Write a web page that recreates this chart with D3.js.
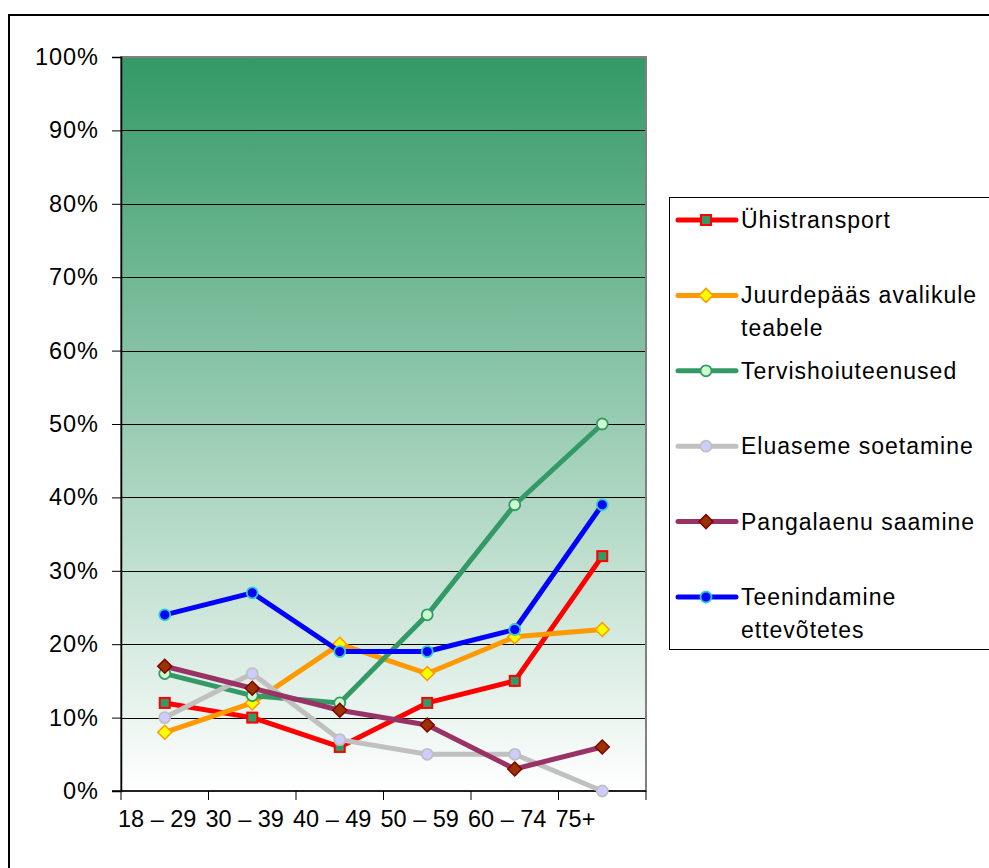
<!DOCTYPE html>
<html>
<head>
<meta charset="utf-8">
<script src="https://cdn.jsdelivr.net/npm/d3@7"></script>
<style>
  html, body { margin: 0; padding: 0; background: #fff; }
  svg { display: block; }
  text { font-family: "Liberation Sans", Arial, sans-serif; fill: #000; }
</style>
</head>
<body>
<svg id="chart" width="989" height="868"></svg>
<script>
// ---------- DATA ----------
const categories = ["18 – 29", "30 – 39", "40 – 49", "50 – 59", "60 – 74", "75+"];
const yTicks = [0, 0.1, 0.2, 0.3, 0.4, 0.5, 0.6, 0.7, 0.8, 0.9, 1.0];

const seriesNames = [
  "Ühistransport",
  "Juurdepääs avalikule teabele",
  "Tervishoiuteenused",
  "Eluaseme soetamine",
  "Pangalaenu saamine",
  "Teenindamine ettevõtetes"
];
const legendLines = [
  ["Ühistransport"],
  ["Juurdepääs avalikule", "teabele"],
  ["Tervishoiuteenused"],
  ["Eluaseme soetamine"],
  ["Pangalaenu saamine"],
  ["Teenindamine", "ettevõtetes"]
];

const valuesUhistransport = [0.12, 0.10, 0.06, 0.12, 0.15, 0.32];
const valuesJuurdepaas   = [0.08, 0.12, 0.20, 0.16, 0.21, 0.22];
const valuesTervishoiu   = [0.16, 0.13, 0.12, 0.24, 0.39, 0.50];
const valuesEluaseme     = [0.10, 0.16, 0.07, 0.05, 0.05, 0.00];
const valuesPangalaenu   = [0.17, 0.14, 0.11, 0.09, 0.03, 0.06];
const valuesTeenindamine = [0.24, 0.27, 0.19, 0.19, 0.22, 0.39];

const seriesValues = [valuesUhistransport, valuesJuurdepaas, valuesTervishoiu,
                      valuesEluaseme, valuesPangalaenu, valuesTeenindamine];

// ---------- STYLES ----------
const styles = [
  { line: "#ff0000", fill: "#339966", stroke: "#ff0000", shape: "square" },
  { line: "#ff9900", fill: "#ffff00", stroke: "#ff9900", shape: "diamond" },
  { line: "#339966", fill: "#ccffcc", stroke: "#339966", shape: "circle" },
  { line: "#c0c0c0", fill: "#ccccff", stroke: "#c0c0c0", shape: "circle" },
  { line: "#993366", fill: "#993300", stroke: "#800000", shape: "diamond" },
  { line: "#0000ff", fill: "#0000ff", stroke: "#33cccc", shape: "circle" }
];

const svg = d3.select("#chart");
const plot = { left: 121, right: 646, top: 57, bottom: 791 };

// outer chart border
svg.append("rect")
  .attr("x", 9).attr("y", 15).attr("width", 1000).attr("height", 900)
  .attr("fill", "#fff").attr("stroke", "#000").attr("stroke-width", 2);

const x = d3.scaleBand().domain(categories).range([plot.left, plot.right]).padding(0);
const y = d3.scaleLinear().domain([0, 1]).range([plot.bottom, plot.top]);

// gradient background
const defs = svg.append("defs");
const grad = defs.append("linearGradient").attr("id", "bg")
  .attr("x1", 0).attr("y1", 0).attr("x2", 0).attr("y2", 1);
grad.append("stop").attr("offset", "0%").attr("stop-color", "#339966");
grad.append("stop").attr("offset", "100%").attr("stop-color", "#ffffff");

svg.append("rect")
  .attr("x", plot.left).attr("y", plot.top)
  .attr("width", plot.right - plot.left).attr("height", plot.bottom - plot.top)
  .attr("fill", "url(#bg)");

// gridlines
svg.append("g").selectAll("line").data(yTicks.filter(t => t > 0 && t < 1)).join("line")
  .attr("x1", plot.left).attr("x2", plot.right)
  .attr("y1", d => Math.round(y(d)) + 0.5).attr("y2", d => Math.round(y(d)) + 0.5)
  .attr("stroke", "#000").attr("stroke-width", 1);

// plot border (gray)
svg.append("rect")
  .attr("x", plot.left).attr("y", plot.top)
  .attr("width", plot.right - plot.left).attr("height", plot.bottom - plot.top)
  .attr("fill", "none").attr("stroke", "#808080").attr("stroke-width", 2);

// y axis
const yAxis = d3.axisLeft(y).tickValues(yTicks).tickFormat(d3.format(".0%")).tickSize(9).tickPadding(13);
const gy = svg.append("g").attr("transform", `translate(${plot.left},0)`).call(yAxis);
gy.select(".domain").attr("stroke", "#000").attr("stroke-width", 1.5);
gy.selectAll(".tick line").attr("stroke", "#000");
gy.selectAll(".tick text")
  .style("font-family", '"Liberation Sans", Arial, sans-serif')
  .style("font-size", "23.5px").style("letter-spacing", "1px").attr("fill", "#000");

// x axis with ticks at category boundaries
const gx = svg.append("g").attr("transform", `translate(0,${plot.bottom})`);
gx.append("line").attr("x1", plot.left - 9).attr("x2", plot.right)
  .attr("y1", 0).attr("y2", 0).attr("stroke", "#000").attr("stroke-width", 1.5);
const boundaries = categories.map(c => x(c)).concat([x(categories[categories.length - 1]) + x.bandwidth()]);
gx.selectAll("line.tk").data(boundaries).join("line").attr("class", "tk")
  .attr("x1", d => d).attr("x2", d => d).attr("y1", 0).attr("y2", 9)
  .attr("stroke", "#000").attr("stroke-width", 1);
gx.selectAll("text").data(categories).join("text")
  .attr("x", d => x(d) - 3).attr("y", 36)
  .attr("text-anchor", "start")
  .style("font-size", "23.5px")
  .text(d => d);

// marker drawing
function drawMarker(g, shape, cx, cy, st) {
  if (shape === "square") {
    g.append("rect").attr("x", cx - 5).attr("y", cy - 5).attr("width", 10).attr("height", 10)
      .attr("fill", st.fill).attr("stroke", st.stroke).attr("stroke-width", 2);
  } else if (shape === "diamond") {
    const r = 7;
    g.append("path").attr("d", `M${cx},${cy - r}L${cx + r},${cy}L${cx},${cy + r}L${cx - r},${cy}Z`)
      .attr("fill", st.fill).attr("stroke", st.stroke).attr("stroke-width", 1.5);
  } else {
    g.append("circle").attr("cx", cx).attr("cy", cy).attr("r", 5.5)
      .attr("fill", st.fill).attr("stroke", st.stroke).attr("stroke-width", 1.8);
  }
}

const line = d3.line()
  .x((d, i) => x(categories[i]) + x.bandwidth() / 2)
  .y(d => y(d));

seriesValues.forEach((vals, si) => {
  const st = styles[si];
  const g = svg.append("g");
  g.append("path").datum(vals).attr("d", line)
    .attr("fill", "none").attr("stroke", st.line).attr("stroke-width", 5)
    .attr("stroke-linejoin", "round");
  vals.forEach((v, i) => drawMarker(g, st.shape, x(categories[i]) + x.bandwidth() / 2, y(v), st));
});

// legend
const legend = svg.append("g");
legend.append("rect").attr("x", 669.5).attr("y", 197.5).attr("width", 400).attr("height", 452)
  .attr("fill", "#fff").attr("stroke", "#000").attr("stroke-width", 1);
seriesNames.forEach((name, i) => {
  const st = styles[i];
  const cy = 220 + i * 75.4;
  const g = legend.append("g");
  g.append("line").attr("x1", 678).attr("x2", 736).attr("y1", cy).attr("y2", cy)
    .attr("stroke", st.line).attr("stroke-width", 5).attr("stroke-linecap", "round");
  drawMarker(g, st.shape, 706, cy, st);
  legendLines[i].forEach((ln, k) => {
    g.append("text").attr("x", 741).attr("y", cy + 8 + k * 32.5)
      .style("font-size", "23px").style("letter-spacing", "1px")
      .text(ln);
  });
});
</script>
</body>
</html>
